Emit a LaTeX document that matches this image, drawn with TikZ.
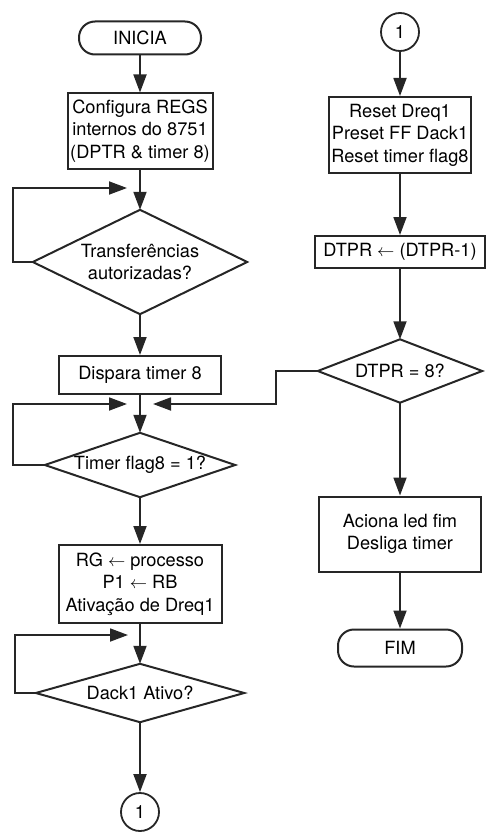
\documentclass[tikz,border=0pt]{standalone}
\usepackage{fontspec}
\setmainfont{TeX Gyre Heros}
\usetikzlibrary{arrows.meta}
\definecolor{ink}{RGB}{38,38,38}
\begin{document}
\begin{tikzpicture}[x=1pt,y=-1pt,
  font=\fontsize{18.2}{22.5}\selectfont,
  flowbox/.style={draw=ink, line width=2pt, inner sep=0pt, align=center, text=black},
  term/.style={flowbox, rounded corners=16pt},
  conn/.style={circle, draw=ink, line width=1.8pt, minimum size=38pt, inner sep=0pt},
  dtext/.style={inner sep=0pt, align=center},
  diam/.style={draw=ink, line width=2pt, line join=miter},
  arr/.style={draw=ink, line width=1.8pt, -{Triangle[length=18pt,width=13pt]}},
]
\useasboundingbox (0,0) rectangle (486,832);

% left column
\node[term, minimum width=122pt, minimum height=33pt] (inicia) at (140,38) {INICIA};
\node[flowbox, minimum width=145pt, minimum height=75pt] (config) at (140,131) {Configura REGS\\internos do 8751\\(DPTR \& timer 8)};
\node[dtext, minimum width=214pt, minimum height=104pt] (d1) at (140,262) {Transferências\\autorizadas?};
\draw[diam] (d1.north) -- (d1.east) -- (d1.south) -- (d1.west) -- cycle;
\node[flowbox, minimum width=162pt, minimum height=38pt] (dispara) at (140,375) {Dispara timer 8};
\node[dtext, minimum width=190pt, minimum height=64pt] (d2) at (140,465) {Timer flag8 = 1?};
\draw[diam] (d2.north) -- (d2.east) -- (d2.south) -- (d2.west) -- cycle;
\node[flowbox, minimum width=163pt, minimum height=78pt] (rg) at (140,584) {RG $\leftarrow$ processo\\P1 $\leftarrow$ RB\\Ativação de Dreq1};
\node[dtext, minimum width=208pt, minimum height=58pt] (d3) at (140,693) {Dack1 Ativo?};
\draw[diam] (d3.north) -- (d3.east) -- (d3.south) -- (d3.west) -- cycle;
\node[conn] (c2) at (140,812) {1};

% right column
\node[conn] (c1) at (400,32) {1};
\node[flowbox, minimum width=142pt, minimum height=76pt] (reset) at (400,135) {Reset Dreq1\\Preset FF Dack1\\Reset timer flag8};
\node[flowbox, minimum width=170pt, minimum height=32pt] (dtpr) at (400,252) {DTPR $\leftarrow$ (DTPR-1)};
\node[dtext, minimum width=164pt, minimum height=63pt] (d4) at (400,371) {DTPR = 8?};
\draw[diam] (d4.north) -- (d4.east) -- (d4.south) -- (d4.west) -- cycle;
\node[flowbox, minimum width=162pt, minimum height=75pt] (aciona) at (400,534) {Aciona led fim\\Desliga timer};
\node[term, minimum width=124pt, minimum height=37pt] (fim) at (400,648) {FIM};

% feedback arrow ends
\coordinate (f1end) at (127,188);
\coordinate (f2end) at (127,404);
\coordinate (f3end) at (153,404);
\coordinate (f4end) at (128,635);

% main flow
\draw[arr] (inicia.south) -- (config.north);
\draw[arr] (config.south) -- (d1.north);
\draw[arr] (d1.south) -- (dispara.north);
\draw[arr] (dispara.south) -- (d2.north);
\draw[arr] (d2.south) -- (rg.north);
\draw[arr] (rg.south) -- (d3.north);
\draw[arr] (d3.south) -- (c2.north);
\draw[arr] (c1.south) -- (reset.north);
\draw[arr] (reset.south) -- (dtpr.north);
\draw[arr] (dtpr.south) -- (d4.north);
\draw[arr] (d4.south) -- (aciona.north);
\draw[arr] (aciona.south) -- (fim.north);

% feedback loops
\draw[arr] (d1.west) -- ++(-20,0) |- (f1end);
\draw[arr] (d2.west) -- ++(-32,0) |- (f2end);
\draw[arr] (d4.west) -- ++(-42,0) |- (f3end);
\draw[arr] (d3.west) -- ++(-21,0) |- (f4end);
\end{tikzpicture}
\end{document}
